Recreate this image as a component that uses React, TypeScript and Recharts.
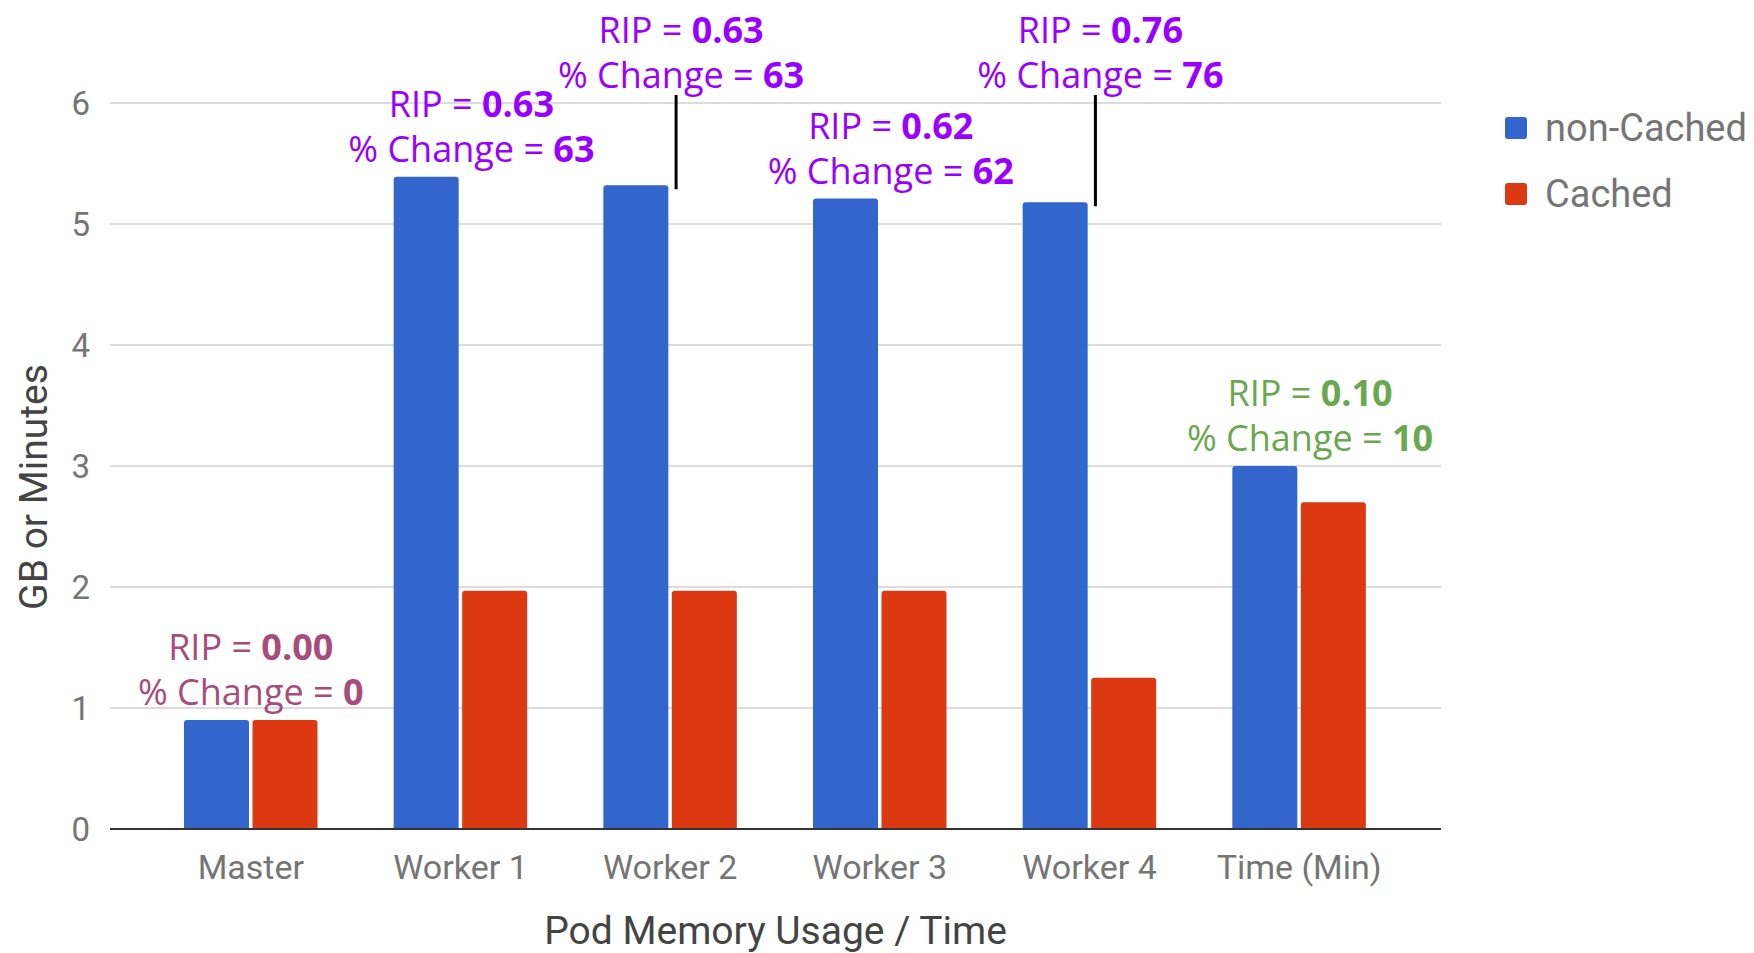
import React from 'react';
import { BarChart, Bar, XAxis, YAxis, CartesianGrid, LabelList, Label } from 'recharts';

const categories = ['Master', 'Worker 1', 'Worker 2', 'Worker 3', 'Worker 4', 'Time (Min)'];
const nonCachedValues = [0.9, 5.39, 5.32, 5.21, 5.18, 3.0];
const cachedValues = [0.9, 1.97, 1.97, 1.97, 1.25, 2.7];
const ripValues = ['0.00', '0.63', '0.63', '0.62', '0.76', '0.10'];
const pctChangeValues = ['0', '63', '63', '62', '76', '10'];
const annotationColors = ['#a64d79', '#9900ff', '#9900ff', '#9900ff', '#9900ff', '#6aa84f'];
const raisedCallout = [false, false, true, false, true, false];
const yTicks = [0, 1, 2, 3, 4, 5, 6];
const seriesLabels = ['non-Cached', 'Cached'];

const data = categories.map((name, i) => ({
  name,
  nonCached: nonCachedValues[i],
  cached: cachedValues[i],
}));

const BLUE = '#3366cc';
const RED = '#dc3912';
const AXIS_FONT = 'Roboto, "Noto Sans", sans-serif';
const ANNOT_FONT = '"Open Sans", Lato, sans-serif';
const BAR_GAP = 3.5;

const Annotation = (props: any) => {
  const { x, y, width, index } = props;
  const center = x + width + BAR_GAP / 2;
  const color = annotationColors[index];
  const raised = raisedCallout[index];
  const tx = center + (index === 0 ? 0 : 11);
  let changeY = y - 28;
  let ripY = changeY - 44.6;
  const elements: any[] = [];
  if (raised) {
    ripY = 30;
    changeY = 75;
    const lx = center + 6;
    elements.push(
      <line key="l" x1={lx} x2={lx} y1={95} y2={y + 4} stroke="#000" strokeWidth={3} />
    );
  }
  return (
    <g>
      {elements}
      <text x={tx} y={ripY} dy="0.36em" textAnchor="middle" fill={color} fontFamily={ANNOT_FONT} fontSize={36}>
        <tspan>RIP = </tspan>
        <tspan fontWeight="bold">{ripValues[index]}</tspan>
      </text>
      <text x={tx} y={changeY} dy="0.36em" textAnchor="middle" fill={color} fontFamily={ANNOT_FONT} fontSize={36}>
        <tspan>% Change = </tspan>
        <tspan fontWeight="bold">{pctChangeValues[index]}</tspan>
      </text>
    </g>
  );
};

const XTick = (props: any) => {
  const { x, y, payload } = props;
  return (
    <text x={x} y={y + 42} textAnchor="middle" fill="#757575" fontFamily={AXIS_FONT} fontSize={34}>
      {payload.value}
    </text>
  );
};

const YTick = (props: any) => {
  const { x, y, payload } = props;
  return (
    <text x={x} y={y} dy="0.36em" textAnchor="end" fill="#757575" fontFamily={AXIS_FONT} fontSize={33}>
      {payload.value}
    </text>
  );
};

const LegendBox = () => {
  const colors = [BLUE, RED];
  return (
    <div style={{ position: 'absolute', left: 1505, top: 95, fontFamily: AXIS_FONT }}>
      {seriesLabels.map((label, i) => (
        <div key={label} style={{ display: 'flex', alignItems: 'center', height: 66 }}>
          <div style={{ width: 22, height: 22, background: colors[i], borderRadius: 3, marginRight: 18 }} />
          <span style={{ fontSize: 38, color: '#757575', whiteSpace: 'nowrap' }}>{label}</span>
        </div>
      ))}
    </div>
  );
};

export default function App() {
  return (
    <div style={{ position: 'absolute', left: 0, top: 0, width: 1754, height: 953, background: '#fff', overflow: 'hidden' }}>
      <BarChart
        width={1754}
        height={953}
        data={data}
        margin={{ top: 103, right: 313, bottom: 0, left: 0 }}
        barGap={BAR_GAP}
        barSize={65}
      >
        <CartesianGrid horizontal vertical={false} stroke="#d0d0d0" strokeWidth={1.5} />
        <XAxis
          dataKey="name"
          height={124}
          tickLine={false}
          axisLine={{ stroke: '#333', strokeWidth: 2 }}
          padding={{ left: 36, right: 37 }}
          tick={<XTick />}
          interval={0}
        >
          <Label
            content={(p: any) => {
              const vb = p.viewBox;
              return (
                <text
                  x={vb.x + vb.width / 2}
                  y={vb.y + 115}
                  textAnchor="middle"
                  fill="#444"
                  fontFamily={AXIS_FONT}
                  fontSize={39}
                >
                  Pod Memory Usage / Time
                </text>
              );
            }}
          />
        </XAxis>
        <YAxis
          width={110}
          domain={[0, 6]}
          ticks={yTicks}
          tickLine={false}
          axisLine={false}
          tickMargin={14}
          tick={<YTick />}
        >
          <Label
            content={() => (
              <text
                x={0}
                y={0}
                transform="translate(47, 487) rotate(-90)"
                textAnchor="middle"
                fill="#444"
                fontFamily={AXIS_FONT}
                fontSize={39}
              >
                GB or Minutes
              </text>
            )}
          />
        </YAxis>
        <Bar dataKey="nonCached" name={seriesLabels[0]} fill={BLUE} radius={[3, 3, 0, 0]} isAnimationActive={false}>
          <LabelList dataKey="nonCached" content={<Annotation />} />
        </Bar>
        <Bar dataKey="cached" name={seriesLabels[1]} fill={RED} radius={[3, 3, 0, 0]} isAnimationActive={false} />
      </BarChart>
      <LegendBox />
    </div>
  );
}
